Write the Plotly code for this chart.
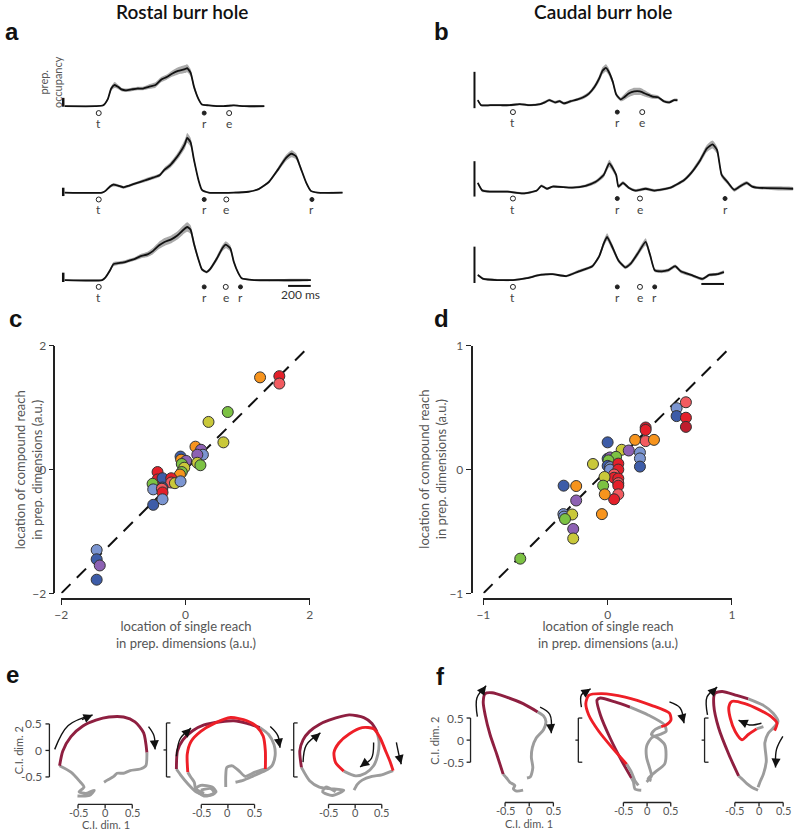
import plotly.graph_objects as go

W, H = 800, 836
def fx(px): return px / W
def fy(py): return 1 - py / H

# ---------------- DATA ----------------
# Panel a (Rostal) : time (ms from target onset), prep. occupancy (scale-bar units), s.e.m.
a1_t = [-300,-30,40,80,110,140,170,200,240,290,340,390,440,500,550,600,650,700,760,780,810,840,880,910,970,1100,1190,1280,1460]
a1_v = [0,0,0.1,0.8,2.0,2.4,2.2,1.9,1.8,1.9,2.0,2.0,2.2,2.4,3.0,3.3,3.7,4.0,4.2,4.3,3.8,2.2,0.8,0.2,0.1,0,0.1,0,0]
a1_s = [0.08,0.08,0.1,0.15,0.25,0.35,0.25,0.2,0.2,0.2,0.2,0.2,0.25,0.3,0.3,0.3,0.35,0.4,0.45,0.45,0.4,0.3,0.15,0.1,0.08,0.08,0.08,0.08,0.08]

a2_t = [-300,30,60,100,130,170,220,270,340,410,480,540,580,630,670,710,760,780,810,840,880,910,970,1190,1320,1410,1500,1580,1650,1700,1740,1780,1830,1870,1930,2150]
a2_v = [0,0,0.2,0.7,0.9,0.8,0.6,0.8,1.1,1.4,1.7,2.0,2.6,3.1,3.7,4.4,5.5,6.2,5.7,3.7,1.4,0.3,0,0,0.1,0.4,1.2,2.6,3.9,4.4,4.1,2.8,1.1,0.2,0,0]
a2_s = [0.08,0.08,0.1,0.15,0.2,0.15,0.15,0.15,0.15,0.2,0.2,0.2,0.25,0.3,0.35,0.4,0.5,0.55,0.5,0.35,0.15,0.1,0.08,0.08,0.08,0.1,0.15,0.25,0.35,0.4,0.35,0.25,0.15,0.1,0.08,0.08]

a3_t = [-300,30,60,100,130,170,220,270,320,370,430,480,530,580,640,690,740,780,810,840,880,910,950,980,1040,1090,1120,1160,1190,1230,1260,1370,1870]
a3_v = [0,0,0.3,1.1,1.8,1.9,2.0,2.2,2.4,2.7,2.9,3.3,3.9,4.3,4.6,5.0,5.6,6.0,5.7,4.1,2.3,1.2,0.9,1.2,2.4,3.6,4.0,3.6,2.1,0.8,0.2,0,0]
a3_s = [0.08,0.08,0.1,0.2,0.25,0.2,0.2,0.2,0.2,0.25,0.3,0.35,0.4,0.45,0.45,0.45,0.5,0.55,0.5,0.4,0.25,0.15,0.15,0.2,0.3,0.35,0.4,0.35,0.25,0.15,0.1,0.08,0.08]

# Panel b (Caudal)
b1_t = [-310,-280,-200,-110,-30,60,150,240,280,320,370,410,450,510,570,620,670,720,760,790,820,840,880,910,950,980,1020,1070,1120,1180,1230,1280,1330,1380,1420,1450]
b1_v = [0.14,0,0,0,0,0.03,0,0.03,0.08,0.14,0.08,0.11,0.05,0.11,0.16,0.22,0.32,0.51,0.73,0.95,1.03,0.95,0.65,0.3,0.16,0.22,0.32,0.38,0.38,0.3,0.24,0.22,0.11,0.08,0.14,0.14]
b1_s = [0.03,0.03,0.03,0.03,0.03,0.03,0.03,0.03,0.04,0.04,0.04,0.04,0.04,0.04,0.04,0.05,0.05,0.07,0.09,0.1,0.1,0.1,0.08,0.06,0.05,0.08,0.1,0.1,0.1,0.08,0.06,0.05,0.04,0.04,0.04,0.04]

b2_t = [-310,-270,-200,-50,90,210,250,300,350,520,640,730,800,850,910,930,970,1020,1080,1170,1250,1390,1510,1570,1650,1710,1760,1800,1840,1890,1950,2000,2060,2110,2150,2470]
b2_v = [0.24,0.03,0,0,-0.05,0.03,0.16,0.08,0.14,0.11,0.16,0.27,0.46,0.78,0.46,0.14,0.24,0.11,0.03,0.08,0.03,0.11,0.32,0.51,0.86,1.19,1.3,1.14,0.46,0.27,0.05,0.14,0.24,0.14,0.11,0.08]
b2_s = [0.04,0.04,0.03,0.03,0.03,0.03,0.04,0.03,0.03,0.03,0.04,0.05,0.07,0.1,0.07,0.05,0.05,0.04,0.04,0.04,0.04,0.04,0.05,0.06,0.08,0.1,0.11,0.1,0.07,0.06,0.05,0.05,0.05,0.04,0.04,0.04]

b3_t = [-310,-260,-140,0,120,240,350,470,580,700,760,800,830,870,930,990,1040,1100,1170,1210,1250,1310,1370,1430,1480,1570,1670,1730,1800,1860]
b3_v = [0.14,0.03,0,0,0.05,0.14,0.16,0.11,0.24,0.38,0.65,1.0,1.19,0.95,0.54,0.35,0.46,0.73,1.05,0.68,0.27,0.24,0.27,0.38,0.24,0.14,0.03,0.14,0.16,0.22]
b3_s = [0.03,0.03,0.03,0.03,0.03,0.03,0.03,0.03,0.04,0.04,0.06,0.09,0.1,0.09,0.06,0.05,0.06,0.08,0.1,0.08,0.05,0.05,0.05,0.05,0.05,0.04,0.04,0.04,0.04,0.04]

# event labels, times in ms
a1_ev = [("t", 0), ("r", 930), ("e", 1150)]
a2_ev = [("t", 0), ("r", 930), ("e", 1125), ("r", 1880)]
a3_ev = [("t", 0), ("r", 930), ("e", 1120), ("r", 1250)]
b1_ev = [("t", 0), ("r", 920), ("e", 1140)]
b2_ev = [("t", 0), ("r", 920), ("e", 1120), ("r", 1870)]
b3_ev = [("t", 0), ("r", 920), ("e", 1120), ("r", 1250)]

# Panel c scatter (single reach x, compound reach y, condition group)
c_x = [1.2,1.51,1.51,0.68,0.37,0.61,0.16,0.25,0.28,0.19,0.19,0.24,-0.08,-0.07,0.01,-0.06,-0.02,-0.06,-0.09,-0.45,-0.45,-0.37,-0.23,-0.23,-0.17,-0.08,-0.53,-0.52,-0.37,-0.38,-0.37,-0.37,-0.52,-1.43,-1.43,-1.38,-1.43]
c_y = [1.49,1.51,1.39,0.93,0.77,0.44,0.37,0.32,0.24,0.24,0.11,0.07,0.21,0.16,0.14,0.09,0.03,-0.04,-0.08,-0.04,-0.16,-0.14,-0.14,-0.21,-0.22,-0.19,-0.23,-0.32,-0.29,-0.31,-0.37,-0.48,-0.57,-1.3,-1.45,-1.55,-1.78]
c_g = [5,6,7,3,4,4,5,2,1,2,4,3,0,5,2,3,4,3,5,6,6,0,6,7,4,1,3,1,0,7,6,1,0,1,0,2,0]

# Panel d scatter
d_x = [0.63,0.555,0.555,0.63,0.63,0.306,0.306,0.221,0.306,0.373,0.0,0.113,0.17,0.26,0.26,0.26,0.0,0.02,0.068,0.007,-0.118,0.0,0.02,0.02,0.086,0.086,0.052,0.052,0.086,0.086,0.086,0.086,0.052,-0.025,-0.036,-0.023,-0.046,-0.354,-0.253,-0.253,-0.356,-0.351,-0.285,-0.343,-0.277,-0.277,-0.703]
d_y = [0.544,0.496,0.432,0.419,0.345,0.34,0.32,0.24,0.23,0.24,0.22,0.16,0.154,0.138,0.09,0.024,0.088,0.098,0.103,0.074,0.045,0.03,0.02,0.0,0.048,0.0,-0.04,-0.066,-0.072,-0.11,-0.13,-0.2,-0.24,-0.06,-0.13,-0.2,-0.36,-0.13,-0.133,-0.25,-0.36,-0.38,-0.363,-0.4,-0.48,-0.557,-0.72]
d_g = [7,1,0,6,8,8,6,5,7,5,0,4,2,1,1,0,0,2,3,3,4,0,1,1,6,6,7,6,6,7,6,7,6,4,3,5,5,0,5,2,1,1,4,3,2,4,3]

# Panel e/f trajectories in C.I. dims (x = dim 1, y = dim 2)
e1_pre_x = [-0.51,-0.29,-0.2,-0.35,-0.48,-0.39,-0.48,-0.63,-0.84]
e1_pre_y = [-0.86,-0.85,-0.75,-0.81,-0.78,-0.69,-0.57,-0.41,-0.29]
e1_single_x = [-0.84,-0.78,-0.63,-0.41,-0.17,0.07,0.34,0.55,0.71,0.77]
e1_single_y = [-0.29,-0.01,0.26,0.46,0.57,0.63,0.63,0.54,0.33,-0.04]
e1_post_x = [0.77,0.75,0.65,0.46,0.34,0.22,0.16,0.04,-0.02]
e1_post_y = [-0.04,-0.29,-0.35,-0.38,-0.43,-0.43,-0.49,-0.56,-0.6]

e2_preA_x = [-0.44,-0.59,-0.5,-0.29,-0.22,-0.38,-0.59,-0.74,-0.86,-0.95]
e2_preA_y = [-0.81,-0.72,-0.66,-0.69,-0.78,-0.85,-0.78,-0.63,-0.48,-0.35]
e2_single_x = [-0.95,-0.93,-0.83,-0.65,-0.44,-0.13,0.11,0.35,0.59]
e2_single_y = [-0.35,-0.01,0.2,0.37,0.48,0.54,0.56,0.51,0.43]
e2_postA_x = [0.59,0.75,0.85,0.87,0.81,0.69,0.47,0.29,0.14]
e2_postA_y = [0.43,0.3,0.11,-0.1,-0.29,-0.38,-0.48,-0.56,-0.6]
e2_preB_x = [-0.5,-0.31,-0.25,-0.44,-0.59,-0.62,-0.68,-0.74]
e2_preB_y = [-0.75,-0.72,-0.81,-0.86,-0.75,-0.6,-0.51,-0.41]
e2_comp_x = [-0.74,-0.75,-0.68,-0.5,-0.25,0.05,0.35,0.53,0.65,0.69,0.69]
e2_comp_y = [-0.41,-0.07,0.17,0.36,0.51,0.62,0.56,0.45,0.27,-0.01,-0.35]
e2_postB_x = [0.69,0.5,0.32,0.2,0.08,-0.02,-0.04,-0.04]
e2_postB_y = [-0.35,-0.41,-0.49,-0.38,-0.29,-0.32,-0.48,-0.69]

e3_pre_x = [-0.36,-0.54,-0.6,-0.42,-0.21,-0.49,-0.66,-0.84,-0.99]
e3_pre_y = [-0.78,-0.69,-0.78,-0.85,-0.75,-0.72,-0.69,-0.57,-0.32]
e3_single_x = [-0.99,-1.02,-0.96,-0.84,-0.66,-0.48,-0.11,0.16,0.31,0.4]
e3_single_y = [-0.32,-0.01,0.2,0.36,0.49,0.57,0.67,0.62,0.51,0.36]
e3_mid_x = [0.4,0.44,0.42,0.34,0.19,0.01,-0.21]
e3_mid_y = [0.36,0.17,-0.07,-0.29,-0.43,-0.48,-0.39]
e3_comp_x = [-0.21,-0.36,-0.39,-0.3,-0.11,0.13,0.34,0.46,0.55,0.64,0.7]
e3_comp_y = [-0.39,-0.23,-0.04,0.14,0.31,0.43,0.41,0.24,0.02,-0.2,-0.38]
e3_post_x = [0.7,0.49,0.31,0.13,0.04,-0.02]
e3_post_y = [-0.38,-0.46,-0.49,-0.56,-0.64,-0.75]

f1_pre_x = [-0.13,-0.26,-0.33,-0.3,-0.4,-0.47,-0.54]
f1_pre_y = [-1.14,-1.16,-1.11,-1.03,-0.96,-0.86,-0.77]
f1_single_x = [-0.54,-0.67,-0.81,-0.91,-0.95,-0.91,-0.77,-0.47,-0.13,0.17]
f1_single_y = [-0.77,-0.32,0.14,0.59,0.89,1.08,1.1,1.0,0.85,0.66]
f1_post_x = [0.17,0.29,0.34,0.29,0.14,0.06,0.04,0.07,0.02,-0.05]
f1_post_y = [0.66,0.57,0.44,0.25,0.06,-0.16,-0.39,-0.62,-0.83,-0.86]

f2_preA_x = [-0.12,-0.25,-0.28,-0.32]
f2_preA_y = [-1.14,-1.11,-0.95,-0.86]
f2_single_x = [-0.32,-0.52,-0.76,-0.96,-1.03,-0.96,-0.66,-0.35]
f2_single_y = [-0.86,-0.47,0.06,0.59,0.93,0.98,0.89,0.77]
f2_postA_x = [-0.35,0.02,0.36,0.39,0.26,0.09,-0.01,-0.01,0.05,0.09,-0.01]
f2_postA_y = [0.77,0.59,0.36,0.21,0.14,0.06,-0.13,-0.39,-0.62,-0.81,-0.95]
f2_preB_x = [-0.18,-0.25,-0.32,-0.42]
f2_preB_y = [-1.03,-0.92,-0.73,-0.54]
f2_comp_x = [-0.42,-0.72,-0.99,-1.2,-1.26,-1.2,-0.93,-0.45,0.09,0.46,0.49,0.39,0.29]
f2_comp_y = [-0.54,-0.16,0.21,0.59,0.85,1.04,1.08,1.0,0.81,0.63,0.47,0.36,0.32]
f2_postB_x = [0.29,0.16,0.09,0.22,0.36,0.39,0.36,0.16,0.02,0.09]
f2_postB_y = [0.32,0.25,0.14,0.06,-0.09,-0.32,-0.54,-0.73,-0.88,-0.92]

f3_pre_x = [-0.02,-0.15,-0.25,-0.35,-0.42]
f3_pre_y = [-1.14,-1.07,-0.99,-0.88,-0.81]
f3_single_x = [-0.42,-0.62,-0.83,-0.93,-0.91,-0.76,-0.46,-0.22]
f3_single_y = [-0.81,-0.32,0.29,0.81,1.08,1.13,1.04,0.96]
f3_post_x = [-0.22,0.09,0.29,0.39,0.32,0.19,0.12,0.15,0.09,0.02,-0.02]
f3_post_y = [0.96,0.81,0.63,0.44,0.32,0.17,-0.05,-0.47,-0.77,-0.95,-1.07]
f3_pre2_x = [0.09,-0.05]
f3_pre2_y = [0.32,0.27]
f3_comp_x = [-0.05,-0.22,-0.35,-0.49,-0.59,-0.62,-0.56,-0.29,0.02,0.25,0.37,0.32]
f3_comp_y = [0.27,0.14,0.02,0.21,0.51,0.77,0.9,0.85,0.7,0.55,0.4,0.23]

# arrows: (tail, mid, head) in C.I. units
e1_arrows = [((-0.93,0.02),(-0.68,0.47),(-0.23,0.67)), ((0.8,0.45),(0.9,0.28),(0.92,0.02))]
e2_arrows = [((-0.95,-0.11),(-0.88,0.22),(-0.68,0.42)), ((0.78,0.45),(0.92,0.28),(0.96,0.05))]
e3_arrows = [((-0.96,-0.22),(-0.9,0.1),(-0.64,0.33)), ((0.34,0.15),(0.3,-0.15),(0.09,-0.31)), ((0.76,0.15),(0.8,-0.05),(0.85,-0.26))]
f1_arrows = [((-1.07,0.55),(-1.08,0.98),(-0.89,1.26)), ((0.22,0.77),(0.42,0.6),(0.45,0.17))]
f2_arrows = [((-1.35,0.77),(-1.35,1.05),(-1.16,1.19)), ((0.46,0.89),(0.68,0.75),(0.76,0.4))]
f3_arrows = [((-1.06,0.59),(-1.07,1.0),(-0.86,1.23)), ((0.05,0.4),(-0.2,0.36),(-0.42,0.47)), ((0.49,0.1),(0.36,-0.2),(0.34,-0.62))]

# ---------------- STYLE ----------------
PALETTE = ['#3d5ca8', '#7b95d1', '#8d61b3', '#7cc243', '#c9c83a', '#f7941d', '#e4202a', '#f25b60', '#bf1e2e']
GRAY = '#9c9c9c'
DARKRED = '#8e1f40'
RED = '#ee1f27'
FONT = 'Lato, "Open Sans", sans-serif'
TICKC = '#555555'

fig = go.Figure()
layout = dict(width=W, height=H, margin=dict(l=0, r=0, t=0, b=0),
              paper_bgcolor='white', plot_bgcolor='rgba(0,0,0,0)', showlegend=False,
              font=dict(family=FONT, color='#333'))
annotations = []
shapes = []
count = [0]

def new_axes(xpx, ypx, xr, yr):
    count[0] += 1
    n = count[0]
    s = '' if n == 1 else str(n)
    layout['xaxis' + s] = dict(domain=[fx(xpx[0]), fx(xpx[1])], range=xr, visible=False, anchor='y' + s)
    layout['yaxis' + s] = dict(domain=[fy(ypx[1]), fy(ypx[0])], range=yr, visible=False, anchor='x' + s)
    return 'x' + s, 'y' + s, s

def hline(x0, x1, y, w=1.5, c='#111'):
    shapes.append(dict(type='line', xref='paper', yref='paper', x0=fx(x0), x1=fx(x1), y0=fy(y), y1=fy(y), line=dict(color=c, width=w)))

def vline(x, y0, y1, w=1.5, c='#111'):
    shapes.append(dict(type='line', xref='paper', yref='paper', x0=fx(x), x1=fx(x), y0=fy(y0), y1=fy(y1), line=dict(color=c, width=w)))

def text(x, y, t, size=12, color=TICKC, angle=0, xanchor='center', yanchor='middle', family=FONT, weight=None):
    f = dict(size=size, color=color, family=family)
    if weight:
        f['weight'] = weight
    annotations.append(dict(x=fx(x), y=fy(y), xref='paper', yref='paper', text=t, showarrow=False,
                            font=f, textangle=angle, xanchor=xanchor, yanchor=yanchor))

MS_PER_PX = 200 / 23

def time_row(t, v, s, ev, xpx, t0px, base, top, bot, unit):
    xr = [(xpx[0] - t0px) * MS_PER_PX, (xpx[1] - t0px) * MS_PER_PX]
    yr = [-(bot - base) / unit, (base - top) / unit]
    xa, ya, _ = new_axes(xpx, (top, bot), xr, yr)
    up = [a + b for a, b in zip(v, s)]
    lo = [a - b for a, b in zip(v, s)]
    fig.add_trace(go.Scatter(x=t + t[::-1], y=up + lo[::-1], fill='toself', fillcolor='#aaaaaa',
                             mode='lines', line=dict(width=0, shape='spline', smoothing=0.5),
                             xaxis=xa, yaxis=ya, hoverinfo='skip'))
    fig.add_trace(go.Scatter(x=t, y=v, mode='lines', line=dict(color='#111', width=1.8, shape='spline', smoothing=0.5),
                             xaxis=xa, yaxis=ya))
    ym = -7 / unit
    for lab, tm in ev:
        filled = lab == 'r'
        fig.add_trace(go.Scatter(x=[tm], y=[ym], mode='markers', cliponaxis=False,
                                 marker=dict(symbol='circle' if filled else 'circle-open', size=4 if filled else 5,
                                             color='#222', line=dict(width=1, color='#222')),
                                 xaxis=xa, yaxis=ya))
        annotations.append(dict(x=tm, y=ym, xref=xa, yref=ya, text=lab, showarrow=False, yanchor='top',
                                yshift=-1, font=dict(size=12, color='#444', family=FONT)))

# ---- panel a ----
time_row(a1_t, a1_v, a1_s, a1_ev, (40, 350), 93, 100, 50, 120, 9)
time_row(a2_t, a2_v, a2_s, a2_ev, (40, 350), 93, 188, 125, 210, 9)
time_row(a3_t, a3_v, a3_s, a3_ev, (40, 350), 93, 277, 212, 300, 9)
vline(57, 91.5, 100.5, w=2.5)
vline(57, 183, 191.5, w=2.5)
vline(57, 269.5, 279, w=2.5)
hline(285, 308, 283, w=2)
text(298, 292, '200 ms', size=12, color='#333')
text(44, 75, 'prep.<br>occupancy', size=11, color='#555', angle=-90)

# ---- panel b ----
time_row(b1_t, b1_v, b1_s, b1_ev, (460, 800), 513, 99, 50, 120, 37)
time_row(b2_t, b2_v, b2_s, b2_ev, (460, 800), 513, 187, 125, 210, 37)
time_row(b3_t, b3_v, b3_s, b3_ev, (460, 800), 513, 277, 212, 300, 37)
vline(474, 65, 102, w=2)
vline(474, 156, 192, w=2)
vline(474, 243, 280, w=2)
hline(704, 727, 281, w=2)

# ---- panels c, d ----
def scatter_panel(xs, ys, gs, lim, xpx, ypx, yaxis_x, xaxis_y, tickv):
    xa, ya, s = new_axes(xpx, ypx, [-lim, lim], [-lim, lim])
    common = dict(visible=True, showline=True, linecolor='#222', linewidth=1.6, ticks='outside', ticklen=5,
                  tickwidth=1.4, tickcolor='#222', tickvals=tickv, tickfont=dict(size=12, color=TICKC, family=FONT),
                  showgrid=False, zeroline=False, anchor='free')
    layout['xaxis' + s].update(common, position=fy(xaxis_y))
    layout['yaxis' + s].update(common, position=fx(yaxis_x))
    fig.add_trace(go.Scatter(x=[-lim, lim], y=[-lim, lim], mode='lines', cliponaxis=False,
                             line=dict(color='#111', width=2, dash='13px,9px'), xaxis=xa, yaxis=ya))
    fig.add_trace(go.Scatter(x=xs, y=ys, mode='markers', cliponaxis=False,
                             marker=dict(size=11, color=[PALETTE[g] for g in gs], line=dict(color='#333', width=1)),
                             xaxis=xa, yaxis=ya))

scatter_panel(c_x, c_y, c_g, 2, (55, 307), (344, 596), 48, 602, [-2, 0, 2])
scatter_panel(d_x, d_y, d_g, 1, (483, 735), (344, 596), 471, 602, [-1, 0, 1])
ylab = 'location of compound reach<br>in prep. dimensions (a.u.)'
xlab = 'location of single reach<br>in prep. dimensions (a.u.)'
text(22, 470, ylab, size=13, angle=-90)
text(432, 470, ylab, size=13, angle=-90)
text(181, 638, xlab, size=13)
text(609, 638, xlab, size=13)

# ---- panels e, f ----
def phase_panel(cx, cy, sx, sy, L, R, T, B, segs, arrows):
    xr = [(L - cx) / sx, (R - cx) / sx]
    yr = [(cy - B) / sy, (cy - T) / sy]
    xa, ya, _ = new_axes((L, R), (T, B), xr, yr)
    for xs, ys, col in segs:
        fig.add_trace(go.Scatter(x=xs, y=ys, mode='lines', line=dict(color=col, width=2.9, shape='spline', smoothing=0.7),
                                 xaxis=xa, yaxis=ya))
    for tail, mid, head in arrows:
        fig.add_trace(go.Scatter(x=[tail[0], mid[0], head[0]], y=[tail[1], mid[1], head[1]], mode='lines',
                                 line=dict(color='#111', width=1.4, shape='spline'), xaxis=xa, yaxis=ya))
        sx0 = mid[0] + (head[0] - mid[0]) * 0.5
        sy0 = mid[1] + (head[1] - mid[1]) * 0.5
        annotations.append(dict(x=head[0], y=head[1], ax=sx0, ay=sy0, xref=xa, yref=ya, axref=xa, ayref=ya,
                                text='', showarrow=True, arrowhead=2, arrowsize=1.3, arrowwidth=1.4,
                                arrowcolor='#111'))

phase_panel(99.5, 756, 55, 54, 40, 160, 690, 815,
            [(e1_pre_x, e1_pre_y, GRAY), (e1_single_x, e1_single_y, DARKRED), (e1_post_x, e1_post_y, GRAY)], e1_arrows)
phase_panel(224, 756, 55, 54, 160, 290, 690, 815,
            [(e2_preA_x, e2_preA_y, GRAY), (e2_single_x, e2_single_y, DARKRED), (e2_postA_x, e2_postA_y, GRAY),
             (e2_preB_x, e2_preB_y, GRAY), (e2_postB_x, e2_postB_y, GRAY), (e2_comp_x, e2_comp_y, RED)], e2_arrows)
phase_panel(353, 756, 55, 54, 290, 420, 690, 815,
            [(e3_pre_x, e3_pre_y, GRAY), (e3_single_x, e3_single_y, DARKRED), (e3_mid_x, e3_mid_y, GRAY),
             (e3_post_x, e3_post_y, GRAY), (e3_comp_x, e3_comp_y, RED)], e3_arrows)
phase_panel(529.7, 746, 49.3, 44.3, 465, 580, 680, 815,
            [(f1_pre_x, f1_pre_y, GRAY), (f1_single_x, f1_single_y, DARKRED), (f1_post_x, f1_post_y, GRAY)], f1_arrows)
phase_panel(649, 746, 49.3, 44.3, 580, 700, 680, 815,
            [(f2_preA_x, f2_preA_y, GRAY), (f2_single_x, f2_single_y, DARKRED), (f2_postA_x, f2_postA_y, GRAY),
             (f2_preB_x, f2_preB_y, GRAY), (f2_postB_x, f2_postB_y, GRAY), (f2_comp_x, f2_comp_y, RED)], f2_arrows)
phase_panel(762.5, 746, 49.3, 44.3, 700, 800, 680, 815,
            [(f3_pre_x, f3_pre_y, GRAY), (f3_single_x, f3_single_y, DARKRED), (f3_post_x, f3_post_y, GRAY),
             (f3_pre2_x, f3_pre2_y, GRAY), (f3_comp_x, f3_comp_y, RED)], f3_arrows)

def ybar(x, y0, y1, labels=None, ticks_left=True):
    vline(x, y0, y1, w=1.3, c='#222')
    ym = (y0 + y1) / 2
    for yy in (y0, ym, y1):
        if ticks_left:
            hline(x - 4, x, yy, w=1.3, c='#222')
        else:
            hline(x, x + 4 if yy != ym else x - 3, yy, w=1.3, c='#222')
    if labels:
        for yy, lab in zip((y0, ym, y1), labels):
            text(x - 5, yy, lab, size=12, xanchor='right')

def xbar(x0, x1, y, labels=True):
    hline(x0, x1, y, w=1.3, c='#222')
    xm = (x0 + x1) / 2
    for xx, lab in zip((x0, xm, x1), ('-0.5', '0', '0.5')):
        vline(xx, y, y + 4, w=1.3, c='#222')
        if labels:
            text(xx, y + 8, lab, size=11)

ybar(43, 729, 783, labels=('0.5', '0', '-0.5'))
ybar(161.7, 728, 783, ticks_left=False)
ybar(290.7, 728, 783, ticks_left=False)
xbar(72, 127, 811); xbar(197, 251, 811); xbar(326, 380, 811)
text(12, 756, 'C.I. dim. 2', size=11, angle=-90)
text(100, 831, 'C.I. dim. 1', size=11)

ybar(470, 723, 768, labels=('0.5', '0', '-0.5'))
ybar(579.3, 723, 768, ticks_left=False)
ybar(707.3, 723, 768, ticks_left=False)
xbar(505, 554, 809); xbar(625, 673, 809); xbar(738, 787, 809)
text(434, 746, 'C.I. dim. 2', size=11, angle=-90)
text(529, 830, 'C.I. dim. 1', size=11)

# ---- titles and panel letters ----
text(177, 4, 'Rostal burr hole', size=19, color='#111', weight=600)
text(604, 4, 'Caudal burr hole', size=19, color='#111', weight=600)
LET = 'Liberation Sans, Arial, sans-serif'
for lx, ly, lt in [(5, 24, 'a'), (441, 24, 'b'), (9, 316, 'c'), (441, 316, 'd'), (6, 679, 'e'), (440, 681, 'f')]:
    text(lx, ly, '<b>' + lt + '</b>', size=24, color='#111', family=LET)

layout['annotations'] = annotations
layout['shapes'] = shapes
fig.update_layout(**layout)
fig.write_html('out.html', config={'displayModeBar': False},
               post_script="document.body.style.margin='0px';document.body.style.overflow='hidden';")
